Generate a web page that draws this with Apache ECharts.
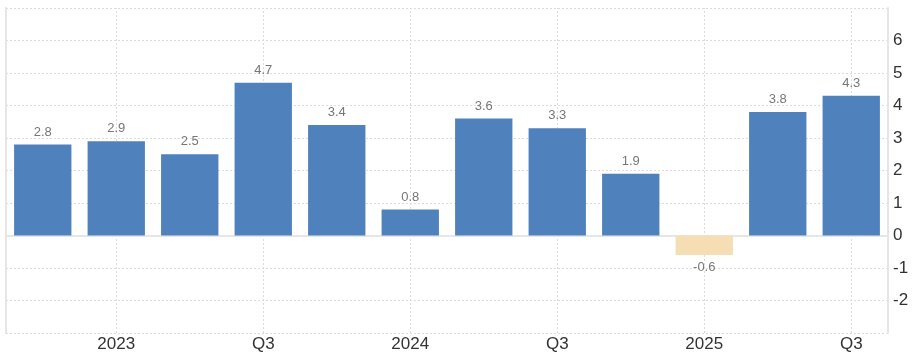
<!DOCTYPE html>
<html>
<head>
<meta charset="utf-8">
<script src="https://cdn.jsdelivr.net/npm/echarts@6/dist/echarts.min.js"></script>
<style>html,body{margin:0;padding:0;background:#fff}#c{width:913px;height:359px}</style>
</head>
<body>
<div id="c"></div>
<script>
const categories = ['2022 Q4','2023 Q1','2023 Q2','2023 Q3','2023 Q4','2024 Q1','2024 Q2','2024 Q3','2024 Q4','2025 Q1','2025 Q2','2025 Q3'];
const tickLabels = ['', '2023', '', 'Q3', '', '2024', '', 'Q3', '', '2025', '', 'Q3'];
const values = [2.8, 2.9, 2.5, 4.7, 3.4, 0.8, 3.6, 3.3, 1.9, -0.6, 3.8, 4.3];
const yTicks = [-2, -1, 0, 1, 2, 3, 4, 5, 6];

const chart = echarts.init(document.getElementById('c'));
const data = values.map(v => ({
  value: v,
  itemStyle: { color: v < 0 ? '#f5deb3' : '#4f81bd' },
  label: { position: v < 0 ? 'bottom' : 'top' }
}));
const gridLineIdx = tickLabels.map((t, i) => t ? i : -1).filter(i => i >= 0);
const font = 'Arial, Liberation Sans, sans-serif';
chart.setOption({
  animation: false,
  grid: { left: 6, right: 25, top: 8, bottom: 26, containLabel: false },
  xAxis: {
    type: 'category',
    data: categories,
    axisLine: { show: true, lineStyle: { color: '#e6e6e6', width: 2 } },
    axisTick: { show: false },
    splitLine: { show: false },
    axisLabel: {
      interval: 0,
      formatter: (v, i) => tickLabels[i],
      color: '#333', fontSize: 17, fontFamily: font, margin: 3
    }
  },
  yAxis: [{
    type: 'value',
    position: 'right',
    min: -3, max: 7, interval: 1,
    axisLine: { show: true, lineStyle: { color: '#e6e6e6', width: 2 } },
    axisTick: { show: false },
    splitLine: { show: true, lineStyle: { color: '#dcdcdc', type: [2, 2], width: 1 } },
    axisLabel: {
      formatter: v => yTicks.includes(v) ? String(v) : '',
      color: '#333', fontSize: 17, fontFamily: font, margin: 5
    }
  }, {
    type: 'value',
    position: 'left',
    min: -3, max: 7, interval: 1,
    axisLine: { show: true, lineStyle: { color: '#e6e6e6', width: 2 } },
    axisTick: { show: false },
    axisLabel: { show: false },
    splitLine: { show: false }
  }],
  series: [{
    type: 'bar',
    data: data,
    yAxisIndex: 0,
    barCategoryGap: '22%',
    label: {
      show: true,
      color: '#777', fontSize: 13, fontFamily: font, distance: 6
    },
    markLine: {
      silent: true,
      symbol: 'none',
      label: { show: false },
      lineStyle: { color: '#dcdcdc', type: [2, 2], width: 1 },
      z: 0,
      data: gridLineIdx.map(i => ({ xAxis: categories[i] }))
    }
  }]
});
</script>
</body>
</html>
